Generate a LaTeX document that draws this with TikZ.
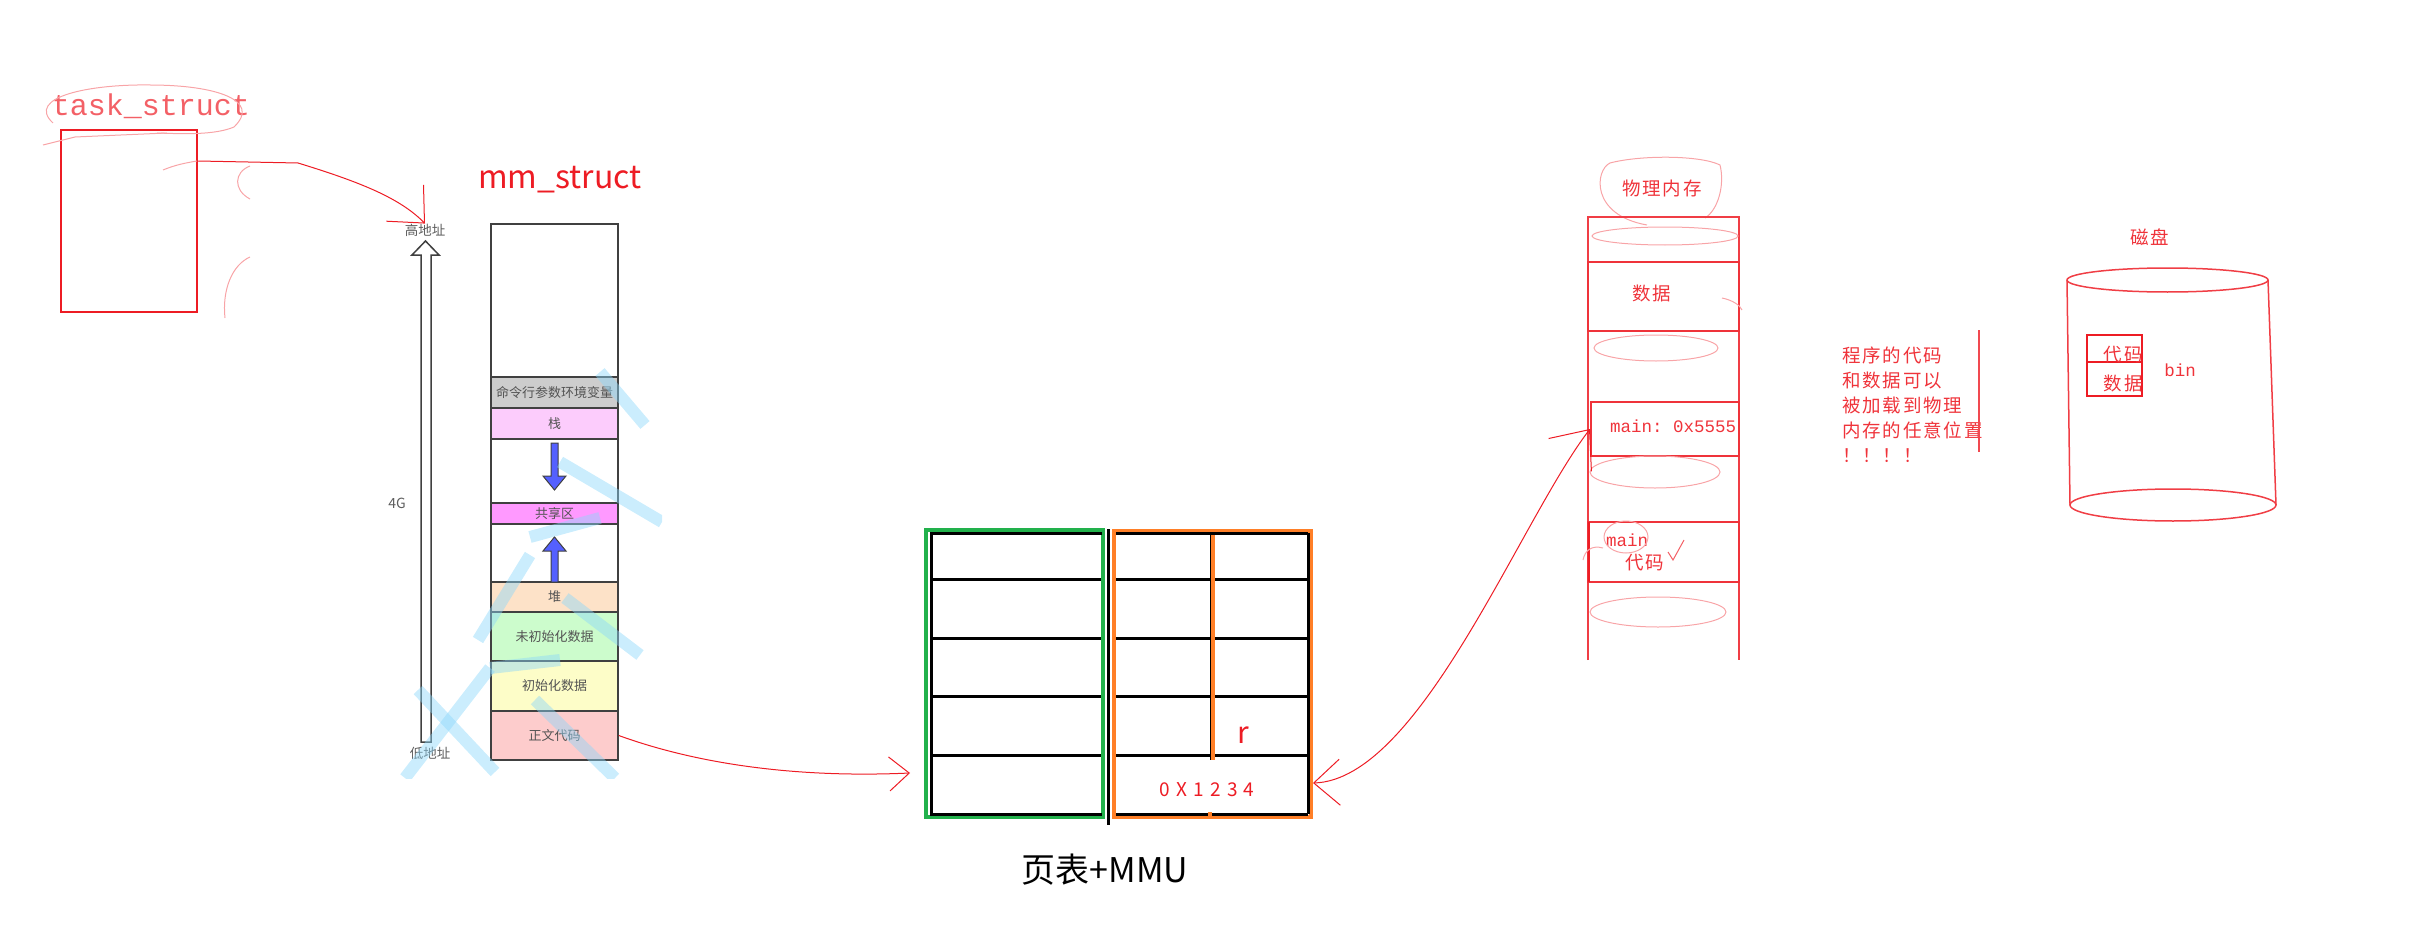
\documentclass[tikz,border=0pt]{standalone}
\usepackage{fontspec}
\setmainfont{Noto Sans CJK SC}
\setmonofont{Liberation Mono}
\newfontfamily\weit[LetterSpace=10]{Noto Sans CJK SC}
\newfontfamily\breit[LetterSpace=33]{Noto Sans CJK SC}
\usetikzlibrary{arrows.meta}

\definecolor{stift}{RGB}{237,28,36}
\definecolor{rand}{RGB}{64,64,64}
\definecolor{tgruen}{RGB}{34,177,76}
\definecolor{torange}{RGB}{255,127,39}
\definecolor{wasser}{RGB}{140,215,250}
\definecolor{pfeilblau}{RGB}{84,96,255}
\definecolor{fgrau}{RGB}{205,205,205}
\definecolor{fstack}{RGB}{252,204,252}
\definecolor{fshared}{RGB}{255,153,255}
\definecolor{fheap}{RGB}{253,226,200}
\definecolor{fbss}{RGB}{204,252,204}
\definecolor{fdata}{RGB}{253,253,200}
\definecolor{ftext}{RGB}{253,204,204}

\begin{document}
\begin{tikzpicture}[x=1pt, y=-1pt,
    redline/.style={draw=stift, line width=1pt},
    krakel/.style={draw=stift!40, line width=1pt},
    schicht/.style={draw=rand, line width=1.5pt, minimum width=127pt, inner sep=0pt, text=rand!90,
        font=\fontsize{13}{15}\selectfont},
    grau/.style={text=rand!85, inner sep=0pt, font=\fontsize{13.5}{16}\selectfont},
    blaupfeil/.style={draw=rand, line width=1pt, fill=pfeilblau},
    wasserzeichen/.style={draw=wasser, line width=12pt, opacity=0.45},
    membox/.style={draw=stift!90, line width=2pt, inner sep=0pt},
    memlinie/.style={draw=stift!85, line width=1.5pt},
    rothand/.style={text=stift!90, inner sep=0pt, font=\weit\fontsize{18.5}{25}\selectfont},
    monotext/.style={text=stift!90, inner sep=0pt, font=\ttfamily\fontsize{17.5}{20}\selectfont}]

    \useasboundingbox (0,0) rectangle (2413,947);

    % task_struct
    \node (tslabel) [text=stift!70, inner sep=0pt, font=\ttfamily\fontsize{30}{32}\selectfont] at (151,106) {task\_struct};
    \node (task) [draw=stift, line width=2.5pt, minimum width=136pt, minimum height=182pt] at (129,221) {};
    \draw[krakel] (53,123) .. controls (25,97) and (90,84) .. (150,85) .. controls (215,85) and (262,100) .. (234,127) .. controls (215,135) and (185,134) .. (157,133);
    \draw[krakel] (43,145) -- (75,137) -- (167,133);
    \draw[krakel] (163,170) .. controls (175,165) and (185,163) .. (197,161);
    \draw[krakel] (250,166) .. controls (234,172) and (233,190) .. (250,199);
    \draw[krakel] (250,257) .. controls (232,265) and (222,290) .. (225,318);

    % mm_struct
    \node (mmlabel) [text=stift, inner sep=0pt, font=\fontsize{32}{34}\selectfont] at (560,180) {mm\_struct};
    \node (gao) [grau] at (425,230) {高地址};
    \node (di) [grau] at (430,753) {低地址};
    \node (vierg) [grau, font=\fontsize{14}{16}\selectfont] at (397,503) {4G};
    \draw[rand, line width=1.5pt, fill=white] (421,742) -- (421,255) -- (412,255) -- (425.5,241) -- (439,255) -- (431,255) -- (431,742) -- cycle;

    \node (env) [schicht, fill=fgrau, minimum height=31pt] at (554.5,392.5) {命令行参数环境变量};
    \node (stack) [schicht, fill=fstack, minimum height=31pt] at (554.5,423.5) {栈};
    \node (shared) [schicht, fill=fshared, minimum height=21pt] at (554.5,513.5) {共享区};
    \node (heap) [schicht, fill=fheap, minimum height=30pt] at (554.5,597) {堆};
    \node (bss) [schicht, fill=fbss, minimum height=49pt] at (554.5,636.5) {未初始化数据};
    \node (data) [schicht, fill=fdata, minimum height=50pt] at (554.5,686) {初始化数据};
    \node (text) [schicht, fill=ftext, minimum height=49pt] at (554.5,735.5) {正文代码};
    \draw[rand, line width=1.5pt] (491,224) rectangle (618,760);

    % Stack und Heap
    \draw[blaupfeil] (551,443) -- (558,443) -- (558,476) -- (566,476) -- (554.5,490) -- (543,476) -- (551,476) -- cycle;
    \draw[blaupfeil] (554.5,537) -- (566,551) -- (558,551) -- (558,582) -- (551,582) -- (551,551) -- (543,551) -- cycle;

    % Wasserzeichen
    \begin{scope}
        \clip (380,360) rectangle (662,778);
        \draw[wasserzeichen] (600,372) -- (645,425);
        \draw[wasserzeichen] (560,462) -- (662,522);
        \draw[wasserzeichen] (530,537) -- (600,518);
        \draw[wasserzeichen] (478,640) -- (530,555);
        \draw[wasserzeichen] (405,778) -- (490,668);
        \draw[wasserzeichen] (418,690) -- (495,772);
        \draw[wasserzeichen] (535,700) -- (615,778);
        \draw[wasserzeichen] (565,598) -- (640,655);
        \draw[wasserzeichen] (490,668) -- (560,660);
    \end{scope}

    % Seitentabelle
    \node (pgl) [draw=tgruen, line width=4pt, minimum width=177pt, minimum height=287pt, inner sep=0pt] at (1014.5,673.5) {};
    \node (pgr) [draw=torange, line width=4pt, minimum width=197pt, minimum height=286pt, inner sep=0pt] at (1212.5,674) {};
    \draw[line width=3pt] (1102,533) -- (931.5,533) -- (931.5,814) -- (1102,814);
    \foreach \y in {579,638,696,755}
        \draw[line width=3pt] (933,\y) -- (1101,\y);
    \foreach \y in {533,579,638,696,755,814}
        \draw[line width=3pt] (1116,\y) -- (1308,\y);
    \draw[line width=3pt] (1308,533) -- (1308,814);
    \draw[line width=3.5pt] (1108.5,529) -- (1108.5,825);
    \draw[line width=3pt] (1211,533) -- (1211,760);
    \draw[torange, line width=4pt] (1213,535) -- (1213,760);
    \draw[torange, line width=4pt] (1210,812) -- (1210,818);
    \node (rlabel) [text=stift, inner sep=0pt, font=\fontsize{30}{32}\selectfont] at (1243,735) {r};
    \node (addr) [text=stift, inner sep=0pt, font=\breit\fontsize{19}{21}\selectfont] at (1207,790) {0X1234};
    \node (mmu) [inner sep=0pt, font=\fontsize{34}{36}\selectfont] at (1105,870) {页表+MMU};

    % Physikalischer Speicher
    \node (wuli) [rothand] at (1662,188) {物理内存};
    \draw[krakel] (1647,225) .. controls (1590,215) and (1595,170) .. (1610,163) .. controls (1640,155) and (1700,155) .. (1720,165) .. controls (1725,185) and (1718,210) .. (1705,218);
    \draw[memlinie] (1588,660) -- (1588,217) -- (1739,217) -- (1739,660);
    \node (daten) [membox, minimum width=151pt, minimum height=69pt] at (1663.5,296.5) {};
    \node (datentxt) [rothand] at (1652,293) {数据};
    \node (mainbox) [membox, minimum width=148pt, minimum height=54pt] at (1665,429) {};
    \node (mainadr) [monotext, anchor=west] at (1610,426) {main: 0x5555};
    \node (codebox) [membox, minimum width=151pt, minimum height=60pt] at (1663.5,552) {};
    \draw[stift, line width=2.5pt] (1589,522) -- (1589,582);
    \node (maintxt) [monotext] at (1627,540) {main};
    \node (codetxt) [rothand] at (1645,563) {代码};
    \draw[krakel] (1626,537) ellipse [x radius=22, y radius=16];
    \draw[stift!70, line width=1pt] (1668,552) -- (1673,560) -- (1684,540);
    \draw[krakel] (1665,236) ellipse [x radius=73, y radius=9];
    \draw[krakel] (1656,348) ellipse [x radius=62, y radius=13];
    \draw[krakel] (1655,472) ellipse [x radius=65, y radius=16];
    \draw[krakel] (1658,612) ellipse [x radius=68, y radius=15];
    \draw[krakel] (1722,298) .. controls (1732,300) and (1740,305) .. (1742,310);
    \draw[krakel] (1583,560) .. controls (1585,550) and (1592,545) .. (1603,548);

    % Hinweis
    \node (hinweis) [rothand, anchor=north west, align=left] at (1842,347) {程序的代码\\和数据可以\\被加载到物理\\内存的任意位置\\！！！！};
    \draw[stift!80, line width=1.2pt] (1979,330) -- (1979,452);

    % Festplatte
    \node (cipan) [rothand] at (2150,237) {磁盘};
    \draw[memlinie] (2167.5,280) ellipse [x radius=100.5, y radius=12];
    \draw[memlinie] (2173,505) ellipse [x radius=103, y radius=16];
    \draw[memlinie] (2067,280) -- (2070,505) (2268,280) -- (2276,505);
    \node (binbox) [draw=stift, line width=1.5pt, minimum width=55pt, minimum height=61pt, inner sep=0pt] at (2114.5,365.5) {};
    \draw[stift, line width=1.5pt] (binbox.west |- 0,362) -- (binbox.east |- 0,362);
    \node (bcode) [rothand, anchor=east] at (2143,355) {代码};
    \node (bdata) [rothand, anchor=east] at (2143,383) {数据};
    \node (bin) [monotext] at (2180,370) {bin};

    % Verbindungen
    \coordinate (pgein) at (910,773);
    \draw[redline, -{Straight Barb[length=28pt, width=52pt]}] (task.east |- 0,161) -- (298,163) .. controls (360,182) and (400,198) .. (gao.north);
    \draw[redline, -{Straight Barb[length=20pt, width=34pt]}] (text.east) .. controls (700,765) and (800,778) .. (pgein);
    \draw[redline, {Straight Barb[length=26pt, width=46pt]}-{Straight Barb[length=32pt, width=54pt]}] (pgr.east |- 0,783) .. controls (1420,780) and (1520,520) .. (mainbox.west);

\end{tikzpicture}
\end{document}
